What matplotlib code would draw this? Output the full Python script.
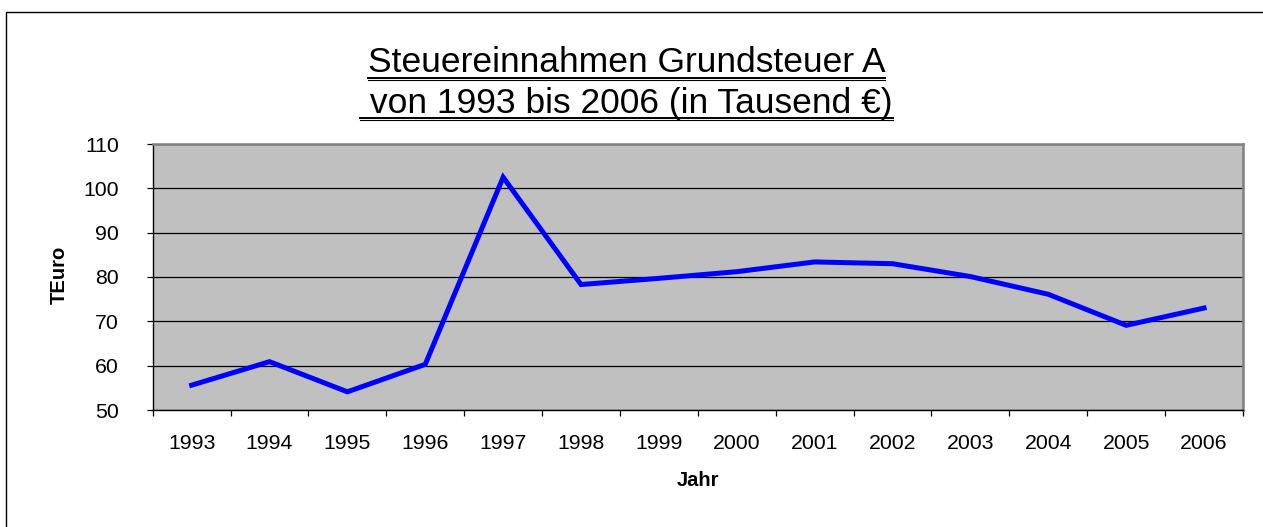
import matplotlib
matplotlib.use("Agg")
import matplotlib.pyplot as plt
from matplotlib.lines import Line2D
import numpy as np

years = ["1993", "1994", "1995", "1996", "1997", "1998", "1999",
         "2000", "2001", "2002", "2003", "2004", "2005", "2006"]
teuro = [55.6, 60.9, 54.1, 60.3, 102.5, 78.3, 79.7,
         81.2, 83.4, 83.0, 80.1, 76.1, 69.1, 73.0]
yticks = [50, 60, 70, 80, 90, 100, 110]
title1 = "Steuereinnahmen Grundsteuer A"
title2 = " von 1993 bis 2006 (in Tausend €)"

plt.rcParams['font.family'] = ['Liberation Sans', 'DejaVu Sans']

W, H = 1263, 527
fig = plt.figure(figsize=(W / 100, H / 100), dpi=100)
fig.patch.set_facecolor("white")

def fx(px):
    return px / W

def fy(py):
    return 1 - py / H

ax = fig.add_axes([fx(152.7), fy(410), fx(1243) - fx(152.7), fy(144) - fy(410)])
ax.set_facecolor("#C0C0C0")

x = np.arange(1, len(years) + 1)
ax.plot(x, teuro, color="#0000FF", lw=3.6, solid_joinstyle="miter", zorder=3)

ax.set_xlim(0.5, len(years) + 0.5)
ax.set_ylim(50, 110)
ax.set_yticks(yticks)
ax.set_yticklabels([str(v) for v in yticks])
ax.yaxis.grid(True, color="black", lw=0.9)
ax.set_axisbelow(True)

ax.set_xticks(x)
ax.set_xticklabels(years)
ax.set_xticks(np.arange(0.5, len(years) + 1, 1.0), minor=True)
ax.tick_params(axis="x", which="major", length=0, pad=17, labelsize=15.3)
ax.tick_params(axis="x", which="minor", length=4.5, width=0.9, direction="out", color="black")
ax.tick_params(axis="y", which="major", length=4.5, width=0.9, direction="out", pad=20, labelsize=15.3)

for s in ["top", "right"]:
    ax.spines[s].set_color("#808080")
    ax.spines[s].set_linewidth(1.8)
for s in ["left", "bottom"]:
    ax.spines[s].set_color("black")
    ax.spines[s].set_linewidth(1.0)

ax.text(fx(59), fy(275), "TEuro", transform=fig.transFigure, rotation=90,
        ha="center", va="center", fontsize=14.5, fontweight="bold")
fig.text(fx(697.8), fy(486), "Jahr", ha="center", va="baseline",
         fontsize=14.5, fontweight="bold")

# title with underline
t1 = fig.text(fx(626.5), fy(72), title1, ha="center", va="baseline", fontsize=25.5)
t2 = fig.text(fx(626.5), fy(113), title2, ha="center", va="baseline", fontsize=25.5)
fig.canvas.draw()
r = fig.canvas.get_renderer()
for t, uy in [(t1, 77.5), (t2, 117.8)]:
    bb = t.get_window_extent(r)
    x0, x1 = bb.x0, bb.x1
    fig.add_artist(Line2D([x0 / W, x1 / W], [fy(uy), fy(uy)], transform=fig.transFigure,
                          color="black", lw=1.4))
    fig.add_artist(Line2D([x0 / W, x1 / W], [fy(uy + 2.6), fy(uy + 2.6)], transform=fig.transFigure,
                          color="black", lw=0.8))

# outer chart border (left and top visible)
fig.add_artist(Line2D([fx(6), fx(6), fx(1263)], [fy(527), fy(12), fy(12)],
                      transform=fig.transFigure, color="black", lw=1.0))

fig.savefig("out.png", dpi=100, facecolor="white")
